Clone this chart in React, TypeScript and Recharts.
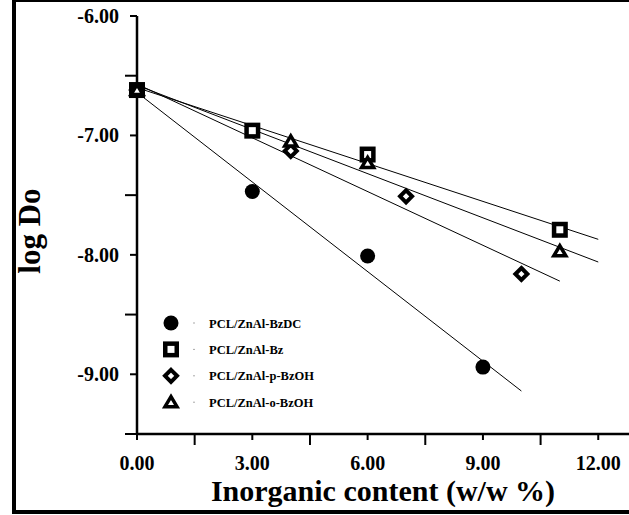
import React from "react";
import { ScatterChart, Scatter, XAxis, YAxis, Legend } from "recharts";

const xTicks = [0, 1.5, 3, 4.5, 6, 7.5, 9, 10.5, 12];
const yTicks = [-9.5, -9, -8.5, -8, -7.5, -7, -6.5, -6];

const seriesNames = ["PCL/ZnAl-BzDC", "PCL/ZnAl-Bz", "PCL/ZnAl-p-BzOH", "PCL/ZnAl-o-BzOH"];

// measured points (x = inorganic content w/w %, y = log Do)
const bzdcPts = [
  { x: 0, y: -6.62 },
  { x: 3, y: -7.47 },
  { x: 6, y: -8.01 },
  { x: 9, y: -8.94 },
];
const bzPts = [
  { x: 0, y: -6.62 },
  { x: 3, y: -6.96 },
  { x: 6, y: -7.16 },
  { x: 11, y: -7.79 },
];
const pBzohPts = [
  { x: 0, y: -6.62 },
  { x: 4, y: -7.13 },
  { x: 7, y: -7.51 },
  { x: 10, y: -8.16 },
];
const oBzohPts = [
  { x: 0, y: -6.62 },
  { x: 4, y: -7.05 },
  { x: 6, y: -7.23 },
  { x: 11, y: -7.97 },
];

// fitted lines, end points
const bzdcFit = [
  { x: 0, y: -6.64 },
  { x: 10, y: -9.14 },
];
const bzFit = [
  { x: 0, y: -6.6 },
  { x: 12, y: -7.87 },
];
const pBzohFit = [
  { x: 0, y: -6.57 },
  { x: 11, y: -8.22 },
];
const oBzohFit = [
  { x: 0, y: -6.58 },
  { x: 12, y: -8.06 },
];

const FONT = '"Liberation Serif", "Times New Roman", serif';

function Marker({ kind, cx, cy }: { kind: string; cx: number; cy: number }) {
  if (kind === "circle") return <circle cx={cx} cy={cy} r={7.5} fill="#000" />;
  if (kind === "square")
    return <rect x={cx - 5.75} y={cy - 5.75} width={11.5} height={11.5} fill="#fff" stroke="#000" strokeWidth={4.5} />;
  if (kind === "diamond")
    return (
      <polygon
        points={`${cx},${cy - 6} ${cx + 6},${cy} ${cx},${cy + 6} ${cx - 6},${cy}`}
        fill="#fff"
        stroke="#000"
        strokeWidth={4}
      />
    );
  return (
    <polygon
      points={`${cx},${cy - 5.5} ${cx + 6},${cy + 4.5} ${cx - 6},${cy + 4.5}`}
      fill="#fff"
      stroke="#000"
      strokeWidth={3.5}
    />
  );
}

const shapeFor = (kind: string) => (p: any) => <Marker kind={kind} cx={p.cx} cy={p.cy} />;
const noShape = () => <g />;

const kinds: Record<string, string> = {
  "PCL/ZnAl-BzDC": "circle",
  "PCL/ZnAl-Bz": "square",
  "PCL/ZnAl-p-BzOH": "diamond",
  "PCL/ZnAl-o-BzOH": "triangle",
};

function XTick({ x, y, payload }: any) {
  const major = payload.value % 3 === 0;
  return (
    <g>
      <line x1={x} y1={y} x2={x} y2={y + (major ? 6 : 11)} stroke="#000" strokeWidth={2} />
      {major && (
        <text x={x} y={y + 36} textAnchor="middle" fontFamily={FONT} fontWeight="bold" fontSize={20} fill="#000">
          {payload.value.toFixed(2)}
        </text>
      )}
    </g>
  );
}

function YTick({ x, y, payload }: any) {
  const major = Number.isInteger(payload.value);
  return (
    <g>
      <line x1={x} y1={y} x2={x - (major ? 7 : 12)} y2={y} stroke="#000" strokeWidth={2} />
      {major && (
        <text x={x - 18} y={y + 7} textAnchor="end" fontFamily={FONT} fontWeight="bold" fontSize={20} fill="#000">
          {payload.value.toFixed(2)}
        </text>
      )}
    </g>
  );
}

function LegendBox({ payload }: any) {
  const present = new Set((payload || []).map((p: any) => p.value));
  const items = seriesNames.filter((n) => present.has(n));
  return (
    <svg width={220} height={120} style={{ display: "block" }}>
      {items.map((name, i) => {
        const cy = 23 + i * 26.4;
        return (
          <g key={name}>
            <Marker kind={kinds[name]} cx={21} cy={cy} />
            <rect x={43.5} y={cy - 0.5} width={1} height={1} fill="#555" />
            <text x={59} y={cy + 4.5} fontFamily={FONT} fontWeight="bold" fontSize={12.5} fill="#000">
              {name}
            </text>
          </g>
        );
      })}
    </svg>
  );
}

export default function App() {
  return (
    <div style={{ position: "absolute", left: 0, top: 0, width: 629, height: 515, overflow: "hidden", background: "#fff" }}>
      <div
        style={{
          position: "absolute",
          left: 12,
          top: -2,
          width: 700,
          height: 516,
          border: "4px solid #000",
          boxSizing: "border-box",
        }}
      />
      <ScatterChart width={629} height={515} margin={{ top: 16, right: 0, bottom: 0, left: 0 }}>
        <XAxis
          type="number"
          dataKey="x"
          domain={[0, 12.8]}
          ticks={xTicks}
          height={81}
          tickSize={0}
          tickMargin={0}
          tick={<XTick />}
          axisLine={{ stroke: "#000", strokeWidth: 2.5 }}
          tickLine={false}
          label={{
            content: ({ viewBox }: any) => (
              <text
                x={viewBox.x + viewBox.width / 2}
                y={viewBox.y + 67}
                textAnchor="middle"
                fontFamily={FONT}
                fontWeight="bold"
                fontSize={30}
                fill="#000"
              >
                Inorganic content (w/w %)
              </text>
            ),
          }}
        />
        <YAxis
          type="number"
          dataKey="y"
          domain={[-9.5, -6]}
          ticks={yTicks}
          width={137}
          tickSize={0}
          tickMargin={0}
          tick={<YTick />}
          axisLine={{ stroke: "#000", strokeWidth: 2.5 }}
          tickLine={false}
          label={{
            content: () => (
              <text
                x={40}
                y={231}
                transform="rotate(-90, 40, 231)"
                textAnchor="middle"
                fontFamily={FONT}
                fontWeight="bold"
                fontSize={31}
                fill="#000"
              >
                log Do
              </text>
            ),
          }}
        />
        <Scatter data={bzdcFit} line={{ stroke: "#000", strokeWidth: 1 }} shape={noShape} legendType="none" isAnimationActive={false} />
        <Scatter data={bzFit} line={{ stroke: "#000", strokeWidth: 1 }} shape={noShape} legendType="none" isAnimationActive={false} />
        <Scatter data={pBzohFit} line={{ stroke: "#000", strokeWidth: 1 }} shape={noShape} legendType="none" isAnimationActive={false} />
        <Scatter data={oBzohFit} line={{ stroke: "#000", strokeWidth: 1 }} shape={noShape} legendType="none" isAnimationActive={false} />
        <Scatter name={seriesNames[0]} data={bzdcPts} shape={shapeFor("circle")} isAnimationActive={false} />
        <Scatter name={seriesNames[1]} data={bzPts} shape={shapeFor("square")} isAnimationActive={false} />
        <Scatter name={seriesNames[2]} data={pBzohPts} shape={shapeFor("diamond")} isAnimationActive={false} />
        <Scatter name={seriesNames[3]} data={oBzohPts} shape={shapeFor("triangle")} isAnimationActive={false} />
        <Legend
          layout="vertical"
          align="center"
          verticalAlign="middle"
          content={<LegendBox />}
          wrapperStyle={{ left: 150, top: 300, width: 220, height: 120 }}
        />
      </ScatterChart>
    </div>
  );
}
